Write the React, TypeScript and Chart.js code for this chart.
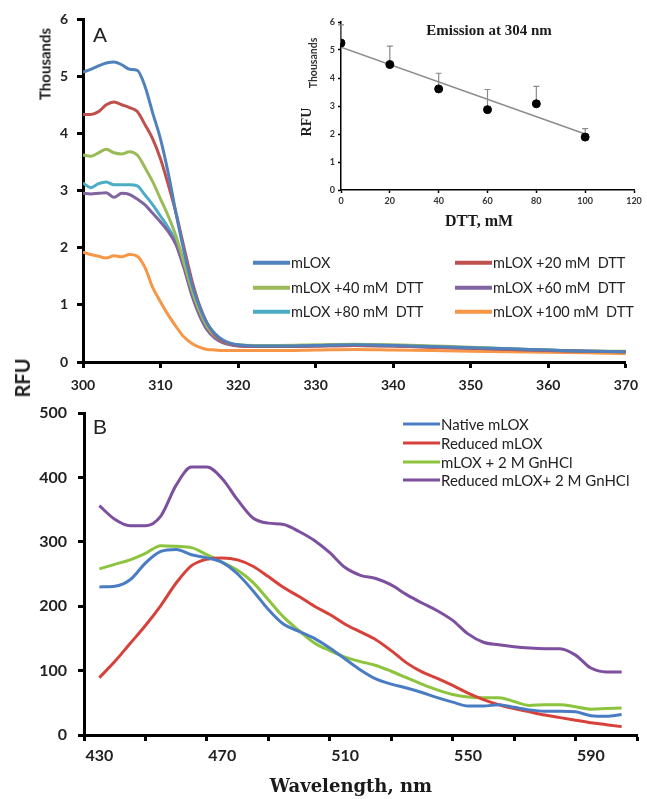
import React, { useEffect, useRef } from "react";
import { Chart, registerables } from "chart.js";
Chart.register(...registerables);

// ---------- Panel A data ----------
const A_WAVELENGTH = [300, 301, 302, 303, 304, 305, 306, 307, 308, 309, 310, 311, 312, 313, 314, 315, 316, 317, 318, 319, 320, 322, 325, 330, 335, 340, 345, 350, 355, 360, 365, 370];
const A_MLOX = [5.07, 5.12, 5.18, 5.23, 5.25, 5.2, 5.12, 5.1, 4.82, 4.35, 3.9, 3.3, 2.6, 1.95, 1.38, 0.98, 0.68, 0.5, 0.39, 0.33, 0.3, 0.28, 0.28, 0.29, 0.3, 0.29, 0.27, 0.25, 0.23, 0.21, 0.19, 0.18];
const A_DTT20 = [4.33, 4.33, 4.38, 4.5, 4.55, 4.5, 4.45, 4.38, 4.15, 3.9, 3.55, 3.1, 2.6, 2.02, 1.45, 1.0, 0.68, 0.48, 0.37, 0.32, 0.29, 0.27, 0.27, 0.28, 0.29, 0.28, 0.26, 0.24, 0.22, 0.2, 0.19, 0.18];
const A_DTT40 = [3.62, 3.6, 3.66, 3.72, 3.66, 3.64, 3.68, 3.62, 3.4, 3.15, 2.85, 2.55, 2.2, 1.75, 1.28, 0.9, 0.62, 0.46, 0.37, 0.32, 0.3, 0.29, 0.29, 0.3, 0.31, 0.3, 0.28, 0.26, 0.23, 0.21, 0.19, 0.19];
const A_DTT60 = [2.95, 2.94, 2.95, 2.96, 2.88, 2.95, 2.93, 2.85, 2.75, 2.6, 2.45, 2.28, 2.05, 1.65, 1.18, 0.82, 0.56, 0.42, 0.34, 0.3, 0.28, 0.27, 0.27, 0.28, 0.29, 0.28, 0.26, 0.24, 0.22, 0.2, 0.19, 0.18];
const A_DTT80 = [3.13, 3.05, 3.12, 3.15, 3.1, 3.1, 3.1, 3.08, 2.92, 2.75, 2.55, 2.35, 2.1, 1.7, 1.23, 0.86, 0.58, 0.44, 0.35, 0.31, 0.29, 0.28, 0.28, 0.29, 0.3, 0.29, 0.27, 0.25, 0.23, 0.21, 0.19, 0.18];
const A_DTT100 = [1.92, 1.88, 1.85, 1.82, 1.86, 1.84, 1.88, 1.85, 1.65, 1.3, 1.05, 0.82, 0.62, 0.44, 0.33, 0.26, 0.22, 0.21, 0.2, 0.2, 0.2, 0.2, 0.2, 0.21, 0.22, 0.21, 0.2, 0.19, 0.18, 0.17, 0.16, 0.15];
const A_LABELS = ["mLOX", "mLOX +20 mM  DTT", "mLOX +40 mM  DTT", "mLOX +60 mM  DTT", "mLOX +80 mM  DTT", "mLOX +100 mM  DTT"];
const A_SERIES = [A_MLOX, A_DTT20, A_DTT40, A_DTT60, A_DTT80, A_DTT100];
const A_COLORS = ["#4F81BD", "#C0504D", "#9BBB59", "#8064A2", "#4BACC6", "#F79646"];

// ---------- Inset data ----------
const INSET_DTT = [0, 20, 40, 60, 80, 100];
const INSET_RFU = [5.25, 4.48, 3.61, 2.87, 3.08, 1.89];
const INSET_ERR = [0.65, 0.66, 0.56, 0.72, 0.62, 0.3];
const TREND_DTT = [0, 100];
const TREND_RFU = [5.1, 2.0];

// ---------- Panel B data ----------
const B_WAVELENGTH = [430, 435, 440, 445, 450, 455, 460, 465, 470, 475, 480, 485, 490, 495, 500, 505, 510, 515, 520, 525, 530, 535, 540, 545, 550, 555, 560, 565, 570, 575, 580, 585, 590, 595, 600];
const B_NATIVE = [230, 231, 241, 267, 285, 288, 280, 275, 268, 250, 224, 195, 172, 161, 150, 135, 118, 101, 87, 79, 73, 66, 58, 51, 45, 45, 47, 43, 39, 37, 37, 36, 30, 29, 32];
const B_REDUCED = [89, 114, 142, 170, 201, 236, 263, 273, 275, 272, 262, 246, 229, 215, 200, 187, 172, 160, 148, 131, 112, 98, 88, 77, 65, 55, 47, 41, 36, 31, 27, 23, 19, 16, 13];
const B_GNHCL = [258, 265, 272, 282, 294, 293, 291, 280, 268, 256, 237, 210, 183, 162, 143, 131, 121, 114, 108, 99, 89, 79, 70, 63, 59, 58, 58, 52, 46, 47, 47, 44, 40, 41, 42];
const B_RED_GNHCL = [356, 335, 325, 325, 340, 388, 416, 416, 398, 365, 337, 329, 327, 316, 302, 283, 260, 248, 243, 233, 218, 205, 193, 178, 157, 144, 140, 137, 135, 134, 134, 124, 104, 98, 98];
const B_LABELS = ["Native mLOX", "Reduced mLOX", "mLOX + 2 M GnHCl", "Reduced mLOX+ 2 M GnHCl"];
const B_SERIES = [B_NATIVE, B_REDUCED, B_GNHCL, B_RED_GNHCL];
const B_COLORS = ["#4A7CC4", "#D8413A", "#8CC43E", "#7D4F9F"];
const B_TICK_LABELS = [430, 470, 510, 550, 590];
const B_TICK_MARKS = [425, 445, 465, 485, 505, 525, 545, 565, 585, 605];

const LATO = "Lato, 'Noto Sans', sans-serif";

function useChart(ref: React.RefObject<HTMLCanvasElement>, make: () => any) {
  useEffect(() => {
    const chart = new Chart(ref.current as HTMLCanvasElement, make());
    return () => chart.destroy();
  }, []);
}

function axis(borderW: number, tickLen: number, tickW: number, extra: any) {
  return {
    grid: { display: true, drawOnChartArea: false, drawTicks: true, tickLength: tickLen, tickWidth: tickW, tickColor: "#000" },
    border: { display: true, color: "#000", width: borderW },
    ...extra,
  };
}

function PanelA() {
  const ref = useRef<HTMLCanvasElement>(null);
  useChart(ref, () => ({
    type: "line",
    data: {
      datasets: A_LABELS.map((label, i) => ({
        label,
        data: A_WAVELENGTH.map((x, j) => ({ x, y: A_SERIES[i][j] })),
        borderColor: A_COLORS[i],
        borderWidth: 3,
        pointRadius: 0,
        cubicInterpolationMode: "monotone",
        fill: false,
      })),
    },
    options: {
      animation: false,
      responsive: false,
      events: [],
      layout: { padding: { top: 19, right: 16, left: 0, bottom: 0 } },
      plugins: { legend: { display: false }, tooltip: { enabled: false } },
      scales: {
        x: axis(3, 6, 3, {
          type: "linear",
          min: 300,
          max: 370,
          ticks: { stepSize: 10, maxRotation: 0, font: { family: LATO, weight: "bold", size: 14 }, color: "#222", padding: 9 },
          afterFit: (s: any) => { s.height = 38; },
        }),
        y: axis(3, 6, 3, {
          min: 0,
          max: 6,
          ticks: { stepSize: 1, font: { family: LATO, weight: "bold", size: 14 }, color: "#222", padding: 9 },
          afterFit: (s: any) => { s.width = 83; },
        }),
      },
    },
  }));
  return <canvas ref={ref} width={647} height={400} style={{ position: "absolute", left: 0, top: 0, display: "block" }} />;
}

const errorBars = {
  id: "errorBars",
  beforeDatasetsDraw(chart: any) {
    const meta = chart.getDatasetMeta(0);
    const ys = chart.scales.y;
    const ctx = chart.ctx;
    ctx.save();
    ctx.strokeStyle = "#8a8a8a";
    ctx.lineWidth = 1.2;
    meta.data.forEach((pt: any, i: number) => {
      const top = ys.getPixelForValue(INSET_RFU[i] + INSET_ERR[i]);
      ctx.beginPath();
      ctx.moveTo(pt.x, pt.y);
      ctx.lineTo(pt.x, top);
      ctx.moveTo(pt.x - 3, top);
      ctx.lineTo(pt.x + 3, top);
      ctx.stroke();
    });
    ctx.restore();
  },
};

function Inset() {
  const ref = useRef<HTMLCanvasElement>(null);
  useChart(ref, () => ({
    type: "line",
    data: {
      datasets: [
        {
          label: "points",
          data: INSET_DTT.map((x, i) => ({ x, y: INSET_RFU[i] })),
          showLine: false,
          pointRadius: 4,
          pointBackgroundColor: "#000",
          pointBorderColor: "#000",
        },
        {
          label: "trend",
          data: TREND_DTT.map((x, i) => ({ x, y: TREND_RFU[i] })),
          borderColor: "#8c8c8c",
          borderWidth: 1.5,
          pointRadius: 0,
        },
      ],
    },
    options: {
      animation: false,
      responsive: false,
      events: [],
      layout: { padding: { top: 22, right: 13, left: 0, bottom: 0 } },
      plugins: { legend: { display: false }, tooltip: { enabled: false } },
      scales: {
        x: axis(1.5, 3, 1.5, {
          type: "linear",
          min: 0,
          max: 120,
          ticks: { stepSize: 20, maxRotation: 0, font: { family: LATO, weight: "bold", size: 9 }, color: "#333", padding: 3 },
          afterFit: (s: any) => { s.height = 50; },
        }),
        y: axis(1.5, 3, 1.5, {
          min: 0,
          max: 6,
          ticks: { stepSize: 1, font: { family: LATO, weight: "bold", size: 9 }, color: "#333", padding: 3 },
          afterFit: (s: any) => { s.width = 41; },
        }),
      },
    },
    plugins: [errorBars],
  }));
  return <canvas ref={ref} width={347} height={240} style={{ position: "absolute", left: 300, top: 0, display: "block" }} />;
}

function PanelB() {
  const ref = useRef<HTMLCanvasElement>(null);
  useChart(ref, () => ({
    type: "line",
    data: {
      datasets: B_LABELS.map((label, i) => ({
        label,
        data: B_WAVELENGTH.map((x, j) => ({ x, y: B_SERIES[i][j] })),
        borderColor: B_COLORS[i],
        borderWidth: 3,
        pointRadius: 0,
        cubicInterpolationMode: "monotone",
        fill: false,
      })),
    },
    options: {
      animation: false,
      responsive: false,
      events: [],
      layout: { padding: { top: 33, right: 10, left: 0, bottom: 0 } },
      plugins: { legend: { display: false }, tooltip: { enabled: false } },
      scales: {
        x: {
          type: "linear",
          min: B_TICK_MARKS[0],
          max: B_TICK_MARKS[B_TICK_MARKS.length - 1],
          afterBuildTicks: (s: any) => {
            const vals = [...B_TICK_MARKS, ...B_TICK_LABELS].sort((a, b) => a - b);
            s.ticks = vals.map((value) => ({ value }));
          },
          ticks: {
            autoSkip: false,
            maxRotation: 0,
            font: { family: LATO, weight: "bold", size: 16 },
            color: "#222",
            padding: 5,
            callback: (v: number) => (B_TICK_LABELS.includes(v) ? String(v) : ""),
          },
          grid: {
            display: true,
            drawOnChartArea: false,
            drawTicks: true,
            tickLength: 6,
            tickWidth: 3,
            tickColor: (c: any) => (c.tick && B_TICK_MARKS.includes(c.tick.value) ? "#000" : "rgba(0,0,0,0)"),
          },
          border: { display: true, color: "#000", width: 3 },
          afterFit: (s: any) => { s.height = 64; },
        },
        y: axis(3, 6, 3, {
          min: 0,
          max: 500,
          ticks: { stepSize: 100, font: { family: LATO, weight: "bold", size: 16 }, color: "#222", padding: 11 },
          afterFit: (s: any) => { s.width = 84; },
        }),
      },
    },
  }));
  return <canvas ref={ref} width={647} height={419} style={{ position: "absolute", left: 0, top: 380, display: "block" }} />;
}

function Text({ x, y, font, rotate, color, children }: any) {
  return (
    <div
      style={{
        position: "absolute",
        left: x,
        top: y,
        transform: `translate(-50%, -50%)${rotate ? " rotate(-90deg)" : ""}`,
        font,
        color: color || "#1a1a1a",
        whiteSpace: "pre",
        lineHeight: 1,
      }}
    >
      {children}
    </div>
  );
}

function LegendItem({ x, y, color, label, font, lineLen, lineW }: any) {
  return (
    <div style={{ position: "absolute", left: x, top: y, transform: "translateY(-50%)", display: "flex", alignItems: "center", whiteSpace: "pre", font, color: "#222", lineHeight: 1 }}>
      <span style={{ display: "inline-block", width: lineLen, height: lineW, background: color, marginRight: 1 }} />
      <span>{label}</span>
    </div>
  );
}

export default function App() {
  const aLegendPos = [
    [253, 263], [455, 263],
    [253, 288], [455, 288],
    [253, 312], [455, 312],
  ];
  const bLegendRows = [424, 443, 462, 480];
  return (
    <div style={{ position: "absolute", left: 0, top: 0, width: 647, height: 799, background: "#fff", overflow: "hidden" }}>
      <PanelA />
      <PanelB />
      <Inset />
      <Text x={100} y={34} font="21px 'Liberation Sans', Arial, sans-serif" color="#222">A</Text>
      <Text x={100} y={426} font="21px 'Liberation Sans', Arial, sans-serif" color="#222">B</Text>
      <Text x={45} y={64} rotate font={`bold 15px ${LATO}`} color="#222">Thousands</Text>
      <Text x={22} y={378} rotate font={`bold 20px ${LATO}`} color="#222">RFU</Text>
      <Text x={351} y={786} font="bold 18px 'DejaVu Serif', serif" color="#1a1a1a">Wavelength, nm</Text>
      <Text x={489} y={30} font="bold 15px 'Liberation Serif', serif" color="#1a1a1a">Emission at 304 nm</Text>
      <Text x={313} y={63} rotate font={`bold 10.5px ${LATO}`} color="#333">Thousands</Text>
      <Text x={307} y={122} rotate font="bold 14px 'Liberation Serif', serif" color="#1a1a1a">RFU</Text>
      <Text x={479} y={221} font="bold 16px 'Liberation Serif', serif" color="#1a1a1a">DTT, mM</Text>
      {A_LABELS.map((label, i) => (
        <LegendItem key={label} x={aLegendPos[i][0]} y={aLegendPos[i][1]} color={A_COLORS[i]} label={label} font={`14.5px ${LATO}`} lineLen={37} lineW={4} />
      ))}
      {B_LABELS.map((label, i) => (
        <LegendItem key={label} x={403} y={bLegendRows[i]} color={B_COLORS[i]} label={label} font={`15px ${LATO}`} lineLen={37} lineW={3} />
      ))}
    </div>
  );
}
